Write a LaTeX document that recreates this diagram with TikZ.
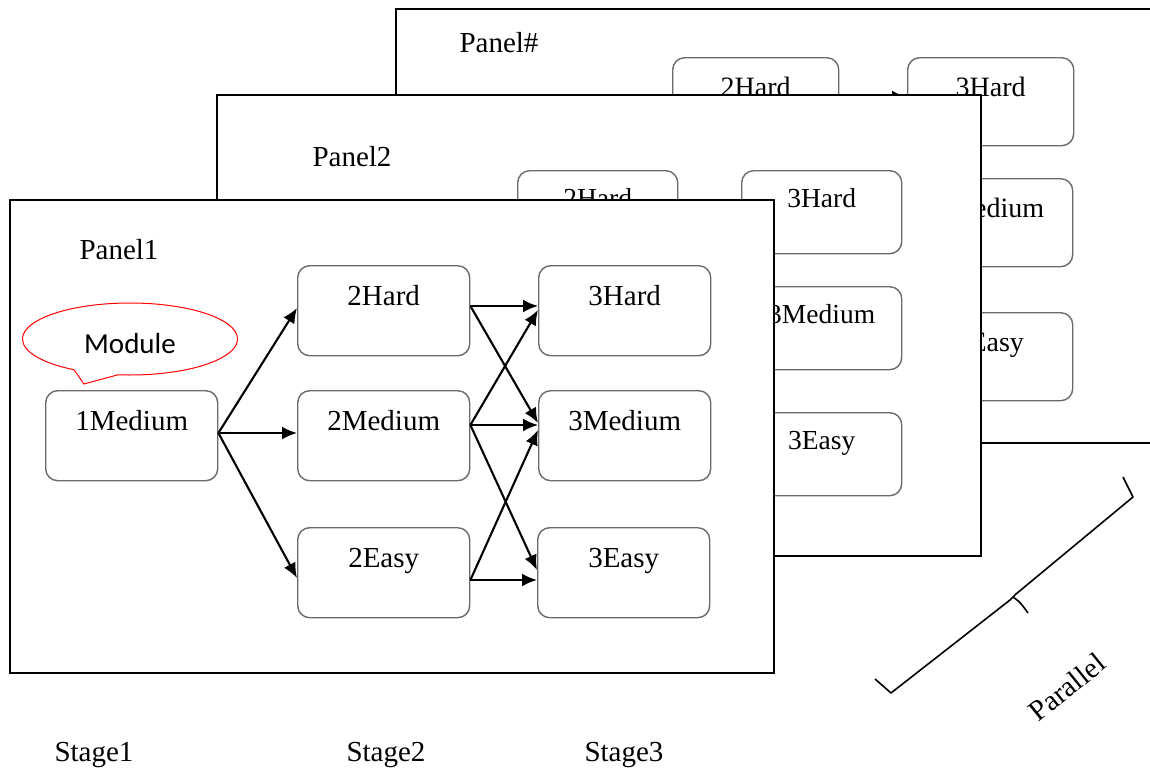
\documentclass[tikz,border=0pt]{standalone}
\usepackage{fontspec}
\setmainfont{Liberation Serif}
\newfontfamily\calibrifont{Carlito}
\usetikzlibrary{arrows.meta,calc,shapes.callouts}
\tikzset{
  panel/.style={draw=black,line width=2.8pt,fill=white},
  rbox/.style={draw=black!58,line width=1.4pt,rounded corners=12pt,fill=white,anchor=north west,
    inner sep=5pt,minimum width=172pt,minimum height=90pt,text height=35pt,text depth=45pt,
    font=\fontsize{29}{29}\selectfont},
  bbox/.style={rbox,minimum width=160pt,minimum height=83pt,text height=32pt,text depth=41pt,
    font=\fontsize{27.5}{27.5}\selectfont},
  cbox/.style={rbox,minimum width=166pt,minimum height=88pt,text height=34pt,text depth=44pt,
    font=\fontsize{28}{28}\selectfont},
  lbl/.style={font=\fontsize{29}{29}\selectfont,inner sep=0pt},
  arr/.style={line width=2.1pt,-{Latex[length=15pt,width=13pt]}},
}
\begin{document}
\begin{tikzpicture}[x=1pt,y=-1pt]
\useasboundingbox (0,0) rectangle (1150,771);
\fill[white] (0,0) rectangle (1150,771);

% ---- Panel# (back)
\draw[panel] (396,9) rectangle (1165,443);
\node[lbl] (p3) at (499,43) {Panel\#};
\node[cbox] (ph2) at (672,57) {2Hard};
\node[cbox] (ph3) at (907,57) {3Hard};
\node[cbox] (pm3) at (906,178) {3Medium};
\node[cbox] (pe3) at (906,312) {3Easy};
\draw[arr] ($(ph2.north east)+(0,40)$) -- ($(ph3.north west)+(0,40)$);

% ---- Panel2 (middle)
\draw[panel] (217,95) rectangle (981,556);
\node[lbl] (p2) at (352,157) {Panel2};
\node[bbox] (qh2) at (517,170) {2Hard};
\node[bbox] (qh3) at (741,170) {3Hard};
\node[bbox] (qm3) at (741,286) {3Medium};
\node[bbox] (qe3) at (741,412) {3Easy};

% ---- Panel1 (front)
\draw[panel] (10,200) rectangle (774,673);
\node[lbl] (p1) at (119,250) {Panel1};
\node[rbox] (m1) at (45,390) {1Medium};
\node[rbox] (h2) at (297,265) {2Hard};
\node[rbox] (m2) at (297,390) {2Medium};
\node[rbox] (e2) at (297,527) {2Easy};
\node[rbox] (h3) at (538,265) {3Hard};
\node[rbox] (m3) at (538,390) {3Medium};
\node[rbox] (e3) at (537,527) {3Easy};

\node[ellipse callout,draw=red,line width=1pt,fill=white,minimum width=215pt,minimum height=72pt,
  inner sep=0pt,text height=29pt,text depth=0pt,callout absolute pointer={(84,384)},callout pointer arc=25,
  font=\calibrifont\fontsize{29}{29}\selectfont] (mod) at (130,339) {Module};

\draw[arr] ($(m1.north east)+(0,43)$) -- ($(h2.north west)+(0,43)$);
\draw[arr] ($(m1.north east)+(0,43)$) -- ($(m2.north west)+(0,43)$);
\draw[arr] ($(m1.north east)+(0,43)$) -- ($(e2.north west)+(0,51)$);

\draw[arr] ($(h2.north east)+(0,41)$) -- ($(h3.north west)+(0,41)$);
\draw[arr] ($(h2.north east)+(0,41)$) -- ($(m3.north west)+(0,33)$);
\draw[arr] ($(m2.north east)+(0,35)$) -- ($(h3.north west)+(0,45)$);
\draw[arr] ($(m2.north east)+(0,35)$) -- ($(m3.north west)+(0,35)$);
\draw[arr] ($(m2.north east)+(0,35)$) -- ($(e3.north west)+(0,43)$);
\draw[arr] ($(e2.north east)+(0,53)$) -- ($(m3.north west)+(0,40)$);
\draw[arr] ($(e2.north east)+(0,53)$) -- ($(e3.north west)+(0,53)$);

% ---- bracket and labels
\draw[line width=1.6pt,line join=round] (875,679) -- (891,693) -- (1010,600) -- (1016,594) -- (1133,497) -- (1123,477);
\draw[line width=1.6pt] (1013,597) .. controls (1020,602) .. (1028,613);
\node[lbl,rotate=39] (par) at (1067,687) {Parallel};

\node[lbl] (s1) at (94,755) {Stage1};
\node[lbl] (s2) at (386,755) {Stage2};
\node[lbl] (s3) at (624,755) {Stage3};
\end{tikzpicture}
\end{document}
